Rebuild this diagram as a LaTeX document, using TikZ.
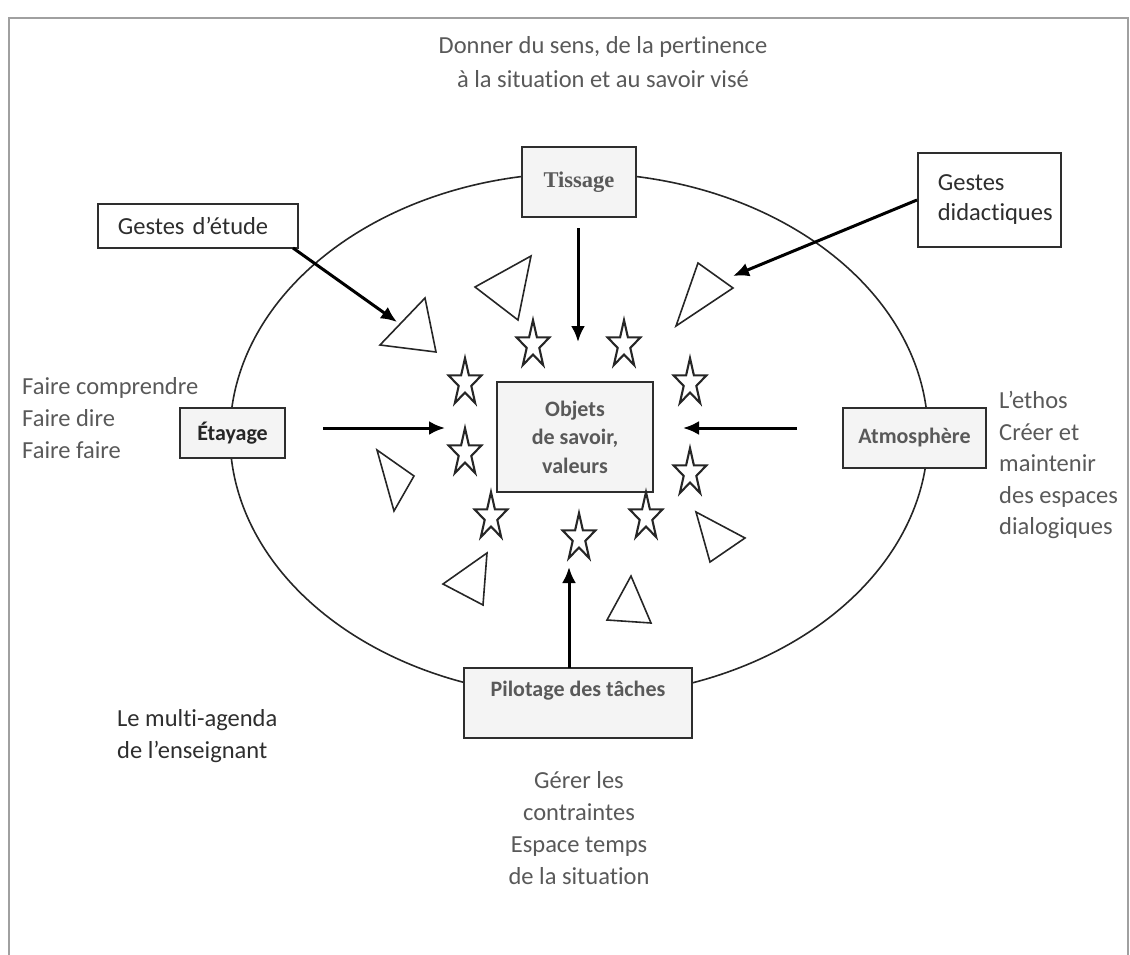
\documentclass[tikz,border=0pt]{standalone}
\usepackage{fontspec}
\setmainfont[RawFeature=-liga]{Carlito}
\newfontfamily\tnr{Liberation Serif}
\usetikzlibrary{arrows.meta}
\definecolor{txtgray}{HTML}{595959}
\definecolor{txtdark}{HTML}{2E2E2E}
\definecolor{boxfill}{HTML}{F4F4F4}
\definecolor{framegray}{HTML}{A0A0A0}
\begin{document}
\begin{tikzpicture}[x=1pt,y=-1pt,
  every node/.style={inner sep=0pt},
  lbl/.style={font=\fontsize{24.5}{32}\selectfont, text=txtgray},
  graybox/.style={draw=txtdark, line width=2.2pt, fill=boxfill, font=\bfseries\fontsize{22}{28.5}\selectfont, text=txtgray, align=center},
  whitebox/.style={draw=txtdark, line width=1.7pt, fill=white, font=\fontsize{24.5}{30}\selectfont, text=txtdark, align=left},
  arr/.style={line width=3pt, -{Latex[length=16pt,width=14pt]}},
  tri/.style={draw=black!85, line width=1.6pt, line join=miter},
  starpic/.pic={\draw[line width=2.1pt, draw=black!85, line join=miter]
     (270:17.35 and 24.9) -- (306:6.63 and 9.51) -- (342:17.35 and 24.9) -- (18:6.63 and 9.51)
     -- (54:17.35 and 24.9) -- (90:6.63 and 9.51) -- (126:17.35 and 24.9) -- (162:6.63 and 9.51)
     -- (198:17.35 and 24.9) -- (234:6.63 and 9.51) -- cycle;}
]
\useasboundingbox (0,0) rectangle (1130,955);
% frame
\draw[framegray, line width=1.6pt] (9,955) -- (9,18) -- (1128,18) -- (1128,955);

% ellipse
\draw[line width=1.6pt, draw=black!85] (579,435) ellipse [x radius=349, y radius=262];

% texts outside
\node[lbl, align=center, font=\fontsize{24.5}{34.5}\selectfont] (top) at (603,62) {Donner du sens, de la pertinence\\à la situation et au savoir visé};
\node[lbl, align=left, anchor=west] (left) at (22,418) {Faire comprendre\\Faire dire\\Faire faire};
\node[lbl, align=left, anchor=west, font=\fontsize{24.5}{31.5}\selectfont] (right) at (999,465) {L’ethos\\Créer et\\maintenir\\des espaces\\dialogiques};
\node[lbl, align=center] (bottom) at (579,828) {Gérer les\\contraintes\\Espace temps\\de la situation};
\node[lbl, text=txtdark, align=left, anchor=west] (agenda) at (117,736) {Le multi-agenda\\de l’enseignant};

% boxes
\node[graybox, minimum width=114, minimum height=70, font=\tnr\bfseries\fontsize{22.5}{26}\selectfont] (tis) at (579,182) {Tissage};
\node[whitebox, minimum height=44, text width=160, inner xsep=20, anchor=west] (ged) at (97,226) {Gestes d’étude};
\node[whitebox, minimum height=94, text width=103, inner xsep=20, anchor=west] (gdi) at (917,200) {Gestes\\didactiques};
\node[graybox, minimum width=105, minimum height=50, text=black!85] (eta) at (232.5,433) {Étayage};
\node[graybox, minimum width=156, minimum height=110] (obj) at (575,437) {Objets\\de savoir,\\valeurs};
\node[graybox, minimum width=143, minimum height=60] (atm) at (914.5,438) {Atmosphère};
\node[graybox, minimum width=228, minimum height=70, text height=16, text depth=30] (pil) at (578,703) {Pilotage des tâches};

% triangles
\draw[tri] (475,287) -- (531,256) -- (518,320) -- cycle;
\draw[tri] (380,345) -- (425,298) -- (436,352) -- cycle;
\draw[tri] (698,263) -- (733,288) -- (676,326) -- cycle;
\draw[tri] (377,450) -- (414,476) -- (394,511) -- cycle;
\draw[tri] (696,512) -- (745,538) -- (710,562) -- cycle;
\draw[tri] (443,584) -- (487,553) -- (483,605) -- cycle;
\draw[tri] (631,576) -- (607,620) -- (651,623) -- cycle;

% stars
\pic (s1) at (533,345) {starpic};
\pic (s2) at (624,345) {starpic};
\pic (s3) at (465,383) {starpic};
\pic (s4) at (690,383) {starpic};
\pic (s5) at (465,453) {starpic};
\pic (s6) at (690,473) {starpic};
\pic (s7) at (491,517) {starpic};
\pic (s8) at (646,517) {starpic};
\pic (s9) at (579,538) {starpic};

% arrow end points
\coordinate (gedS) at (293,248);
\coordinate (gedE) at (397,322);
\coordinate (gdiE) at (733,276);
\coordinate (tisS) at (578,228);
\coordinate (tisE) at (578,342);
\coordinate (etaS) at (323,428);
\coordinate (etaE) at (445,428);
\coordinate (atmS) at (797,428);
\coordinate (atmE) at (683,428);
\coordinate (pilS) at (569,668);
\coordinate (pilE) at (569,567);

\draw[arr] (gedS) -- (gedE);
\draw[arr] (gdi.west) -- (gdiE);
\draw[arr] (tisS) -- (tisE);
\draw[arr] (etaS) -- (etaE);
\draw[arr] (atmS) -- (atmE);
\draw[arr] (pilS) -- (pilE);
\end{tikzpicture}
\end{document}
